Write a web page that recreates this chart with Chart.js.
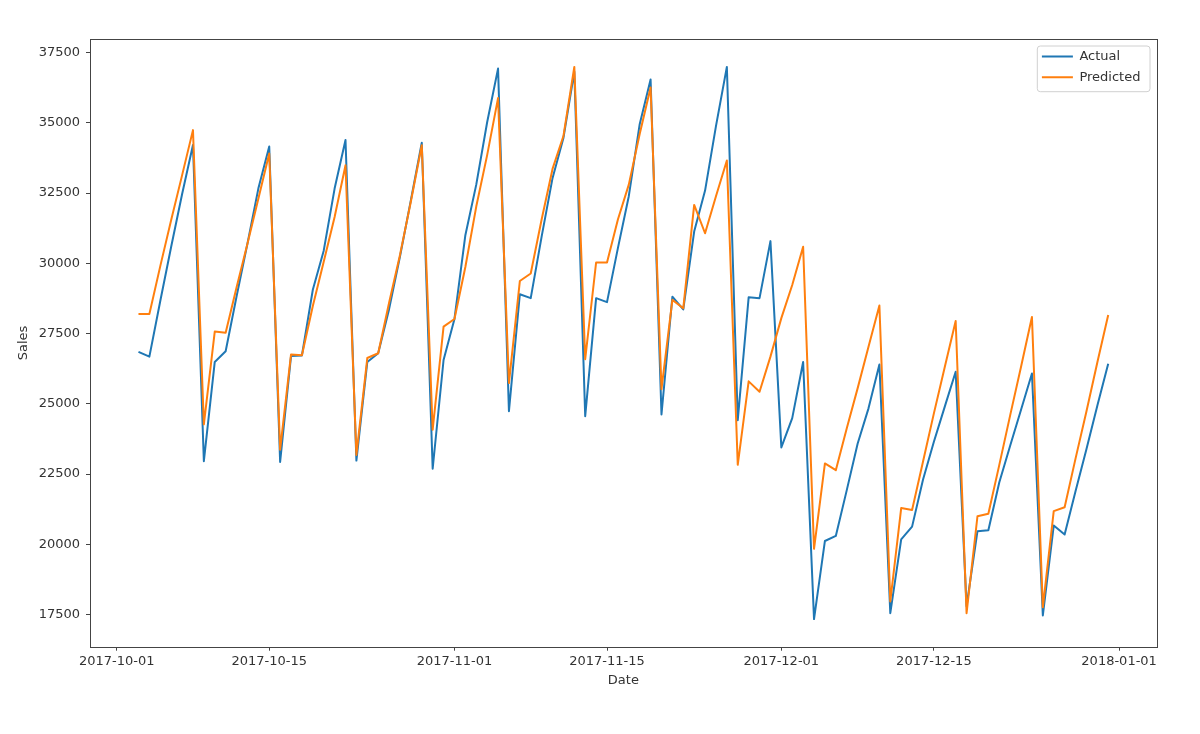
<!DOCTYPE html>
<html>
<head>
<meta charset="utf-8">
<script src="https://cdn.jsdelivr.net/npm/chart.js@4/dist/chart.umd.min.js"></script>
<style>
  html, body { margin: 0; padding: 0; background: #ffffff; }
  #wrap { width: 1200px; height: 734px; position: relative; }
</style>
</head>
<body>
<div id="wrap"><canvas id="chart"></canvas></div>
<script>
// ---------------- data ----------------
const dates = [
  '2017-10-03','2017-10-04','2017-10-05','2017-10-06','2017-10-07','2017-10-08','2017-10-09','2017-10-10',
  '2017-10-11','2017-10-12','2017-10-13','2017-10-14','2017-10-15','2017-10-16','2017-10-17','2017-10-18',
  '2017-10-19','2017-10-20','2017-10-21','2017-10-22','2017-10-23','2017-10-24','2017-10-25','2017-10-26',
  '2017-10-27','2017-10-28','2017-10-29','2017-10-30','2017-10-31',
  '2017-11-01','2017-11-02','2017-11-03','2017-11-04','2017-11-05','2017-11-06','2017-11-07','2017-11-08',
  '2017-11-09','2017-11-10','2017-11-11','2017-11-12','2017-11-13','2017-11-14','2017-11-15','2017-11-16',
  '2017-11-17','2017-11-18','2017-11-19','2017-11-20','2017-11-21','2017-11-22','2017-11-23','2017-11-24',
  '2017-11-25','2017-11-26','2017-11-27','2017-11-28','2017-11-29','2017-11-30',
  '2017-12-01','2017-12-02','2017-12-03','2017-12-04','2017-12-05','2017-12-06','2017-12-07','2017-12-08',
  '2017-12-09','2017-12-10','2017-12-11','2017-12-12','2017-12-13','2017-12-14','2017-12-15','2017-12-16',
  '2017-12-17','2017-12-18','2017-12-19','2017-12-20','2017-12-21','2017-12-22','2017-12-23','2017-12-24',
  '2017-12-25','2017-12-26','2017-12-27','2017-12-28','2017-12-29','2017-12-30','2017-12-31'
];

const actualSales = [
  26850, 26680, 28660, 30590, 32460, 34210, 22960, 26490, 26870, 28820, 30700, 32660, 34160, 22930, 26700,
  26720, 29060, 30450, 32660, 34390, 22980, 26490, 26800, 28370, 30240, 32250, 34290, 22690, 26560,
  28020, 31000, 32800, 35020, 36930, 24740, 28900, 28760, 30950, 33030, 34460, 36820, 24560, 28760, 28620,
  30540, 32390, 34950, 36540, 24620, 28810, 28360, 31130, 32590, 34880, 36990, 24420, 28790, 28760, 30790,
  23450, 24490, 26490, 17340, 20120, 20300, 21920, 23580, 24840, 26400, 17550, 20180, 20630, 22300, 23650,
  24900, 26140, 17800, 20470, 20500, 22200, 23510, 24790, 26080, 17470, 20670, 20350, 21890, 23380, 24930, 26430
];

const predictedSales = [
  28200, 28200, 29900, 31540, 33130, 34740, 24270, 27570, 27530, 29140, 30700, 32300, 33910, 23370, 26760,
  26730, 28480, 30060, 31650, 33490, 23180, 26630, 26800, 28600, 30300, 32200, 34200, 24080, 27750,
  28020, 29870, 32020, 33850, 35880, 25740, 29370, 29640, 31560, 33360, 34530, 36990, 26590, 30030, 30030,
  31560, 32800, 34600, 36260, 25520, 28700, 28400, 32080, 31070, 32390, 33660, 22830, 25800, 25430, 26680,
  28050, 29230, 30590, 19840, 22880, 22640, 24120, 25550, 27030, 28500, 17970, 21290, 21220, 22940, 24660,
  26310, 27950, 17550, 21000, 21090, 22820, 24590, 26320, 28090, 17760, 21180, 21320, 23050, 24730, 26470, 28160
];

const seriesNames = ['Actual', 'Predicted'];
const xTickLabels = ['2017-10-01','2017-10-15','2017-11-01','2017-11-15','2017-12-01','2017-12-15','2018-01-01'];
const yTickValues = [17500, 20000, 22500, 25000, 27500, 30000, 32500, 35000, 37500];
const xAxisTitle = 'Date';
const yAxisTitle = 'Sales';

// ---------------- helpers ----------------
const DAY = 86400000;
const baseTime = Date.parse(xTickLabels[0]);
const toDay = s => Math.round((Date.parse(s) - baseTime) / DAY);
const xTickDays = xTickLabels.map(toDay);
const dayValues = dates.map(toDay);

// matplotlib-like 5% margins
const xLo = Math.min(...dayValues), xHi = Math.max(...dayValues);
const xPad = (xHi - xLo) * 0.05;
const allY = actualSales.concat(predictedSales);
const yLo = Math.min(...allY), yHi = Math.max(...allY);
const yPad = (yHi - yLo) * 0.05;

const TEXT = '#333333';
const SPINE = '#444444';
const FONT = 'DejaVu Sans';

Chart.defaults.font.family = FONT;
Chart.defaults.font.size = 13;
Chart.defaults.color = TEXT;

const layoutPlugin = {
  id: 'mplLayout',
  afterLayout(chart) {
    const lg = chart.legend;
    const a = chart.chartArea;
    if (lg) {
      lg.left = a.right - 122.5;
      lg.top = a.top + 3;
      lg.right = lg.left + lg.width;
      lg.bottom = lg.top + lg.height;
    }
  },
  beforeDraw(chart) {
    // legend frame (drawn under legend entries)
    const a = chart.chartArea;
    const ctx = chart.ctx;
    const x = a.right - 119.4, y = a.top + 6.7, w = 112.7, h = 45.7, r = 3;
    ctx.save();
    ctx.beginPath();
    ctx.moveTo(x + r, y);
    ctx.lineTo(x + w - r, y);
    ctx.quadraticCurveTo(x + w, y, x + w, y + r);
    ctx.lineTo(x + w, y + h - r);
    ctx.quadraticCurveTo(x + w, y + h, x + w - r, y + h);
    ctx.lineTo(x + r, y + h);
    ctx.quadraticCurveTo(x, y + h, x, y + h - r);
    ctx.lineTo(x, y + r);
    ctx.quadraticCurveTo(x, y, x + r, y);
    ctx.closePath();
    ctx.fillStyle = 'rgba(255,255,255,0.8)';
    ctx.fill();
    ctx.strokeStyle = '#d0d0d0';
    ctx.lineWidth = 1;
    ctx.stroke();
    ctx.restore();
  },
  afterDatasetsDraw(chart) {
    const a = chart.chartArea;
    const ctx = chart.ctx;
    ctx.save();
    ctx.strokeStyle = SPINE;
    ctx.lineWidth = 1;
    ctx.strokeRect(Math.round(a.left) + 0.5, Math.round(a.top) + 0.5,
                   Math.round(a.right) - Math.round(a.left), Math.round(a.bottom) - Math.round(a.top));
    ctx.restore();
  }
};

new Chart(document.getElementById('chart'), {
  type: 'line',
  data: {
    datasets: [
      {
        label: seriesNames[0],
        data: dates.map((d, i) => ({ x: toDay(d), y: actualSales[i] })),
        borderColor: '#1f77b4',
        backgroundColor: '#1f77b4',
        borderWidth: 2,
        borderJoinStyle: 'round',
        borderCapStyle: 'butt',
        pointRadius: 0,
        tension: 0,
        fill: false,
        order: 1
      },
      {
        label: seriesNames[1],
        data: dates.map((d, i) => ({ x: toDay(d), y: predictedSales[i] })),
        borderColor: '#ff7f0e',
        backgroundColor: '#ff7f0e',
        borderWidth: 2,
        borderJoinStyle: 'round',
        borderCapStyle: 'butt',
        pointRadius: 0,
        tension: 0,
        fill: false,
        order: 0
      }
    ]
  },
  options: {
    responsive: true,
    maintainAspectRatio: false,
    devicePixelRatio: 1,
    animation: false,
    events: [],
    layout: { padding: { left: 0, top: 39.3, right: 43.3, bottom: 0 } },
    plugins: {
      tooltip: { enabled: false },
      legend: {
        display: true,
        position: 'chartArea',
        align: 'start',
        labels: {
          usePointStyle: true,
          pointStyle: 'line',
          pointStyleWidth: 31,
          boxHeight: 13,
          padding: 7.7,
          color: TEXT,
          font: { family: FONT, size: 13 },
          sort: (a, b) => a.datasetIndex - b.datasetIndex
        }
      }
    },
    scales: {
      x: {
        type: 'linear',
        min: xLo - xPad,
        max: xHi + xPad,
        afterFit(scale) { scale.height = 87.3; },
        afterBuildTicks(scale) { scale.ticks = xTickDays.map(v => ({ value: v })); },
        ticks: {
          autoSkip: false,
          maxRotation: 0,
          minRotation: 0,
          padding: 3,
          color: TEXT,
          font: { family: FONT, size: 13 },
          callback: (v) => { const k = xTickDays.indexOf(v); return k >= 0 ? xTickLabels[k] : ''; }
        },
        grid: { display: true, drawOnChartArea: false, drawTicks: true, tickLength: 4, tickColor: SPINE, tickWidth: 1 },
        border: { display: false },
        title: { display: true, text: xAxisTitle, color: TEXT, font: { family: FONT, size: 13 }, padding: { top: 0, bottom: 45.2 } }
      },
      y: {
        type: 'linear',
        min: yLo - yPad,
        max: yHi + yPad,
        afterFit(scale) { scale.width = 90; },
        afterBuildTicks(scale) { scale.ticks = yTickValues.map(v => ({ value: v })); },
        ticks: {
          padding: 6,
          color: TEXT,
          font: { family: FONT, size: 13 },
          callback: (v) => String(v)
        },
        grid: { display: true, drawOnChartArea: false, drawTicks: true, tickLength: 4, tickColor: SPINE, tickWidth: 1 },
        border: { display: false },
        title: { display: true, text: yAxisTitle, color: TEXT, font: { family: FONT, size: 13 }, padding: { top: 15.5, bottom: 0 } }
      }
    }
  },
  plugins: [layoutPlugin]
});
</script>
</body>
</html>
